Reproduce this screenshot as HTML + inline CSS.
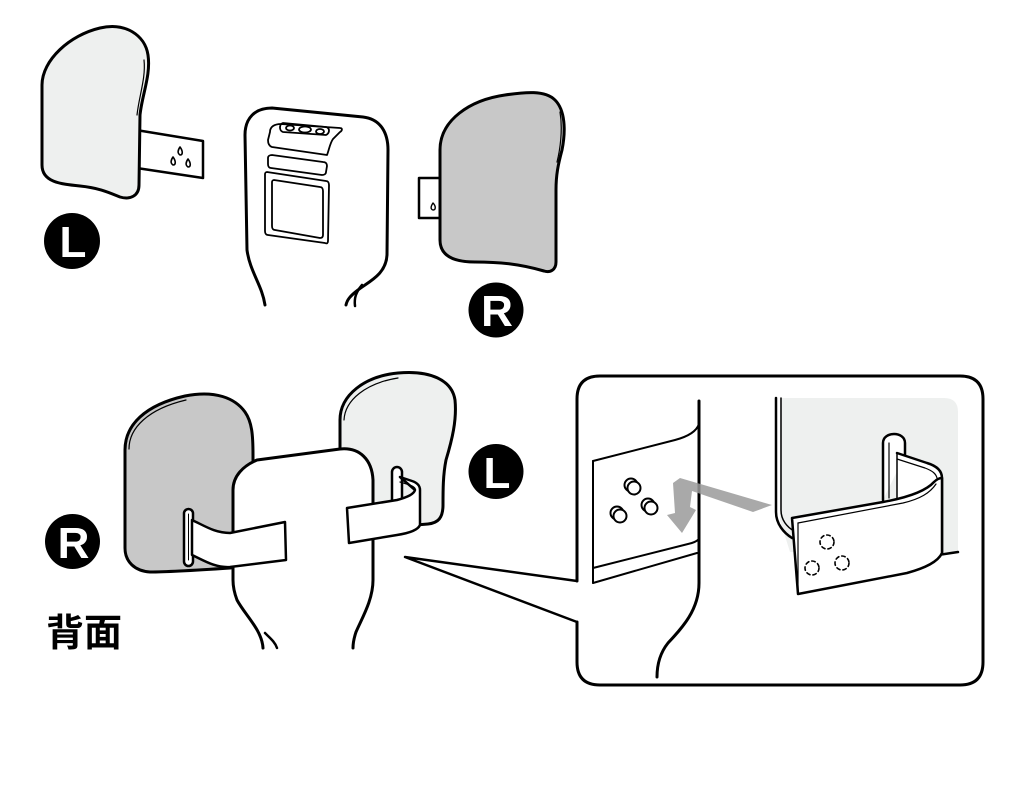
<!DOCTYPE html>
<html><head><meta charset="utf-8"><style>
html,body{margin:0;padding:0;background:#fff;}
svg{display:block;}
text{font-family:"Liberation Sans","Noto Sans CJK JP",sans-serif;}
</style></head><body>
<svg width="1024" height="805" viewBox="0 0 1024 805" xmlns="http://www.w3.org/2000/svg">
<rect width="1024" height="805" fill="#fff"/>
<g stroke="#000" stroke-linejoin="round" stroke-linecap="round">

<!-- ===== TOP LEFT L PAD ===== -->
<polygon points="130,129 203,141 203,178 130,167" fill="#fff" stroke-width="2.5"/>
<g fill="#fff" stroke-width="1.6">
<path d="M180,147 C178,150 177,153 180,155 C183,155 183,151 180,147 Z"/>
<path d="M173,157 C171,160 170,163 173,165 C176,165 176,161 173,157 Z"/>
<path d="M188,159 C186,162 185,165 188,167 C191,167 191,163 188,159 Z"/>
</g>
<path d="M42,165 L42,85 C42,60 70,35 100,28 C125,22 145,35 148,55 C151,75 142,95 140,115 L139,185 C139,196 130,200 120,197 C110,193 100,188 80,186 C60,184 42,182 42,165 Z" fill="#eef0ef" stroke-width="3"/>
<path d="M144,60 C146,78 139,96 137,115" fill="none" stroke-width="1.2"/>
<circle cx="72" cy="241" r="28" fill="#000" stroke="none"/>
<text x="73" y="257" font-size="44" font-weight="bold" fill="#fff" stroke="none" text-anchor="middle">L</text>

<!-- ===== TOP SEAT BACK ===== -->
<path d="M265,305 C262,285 250,272 247,250 L245,135 C245,118 255,108 272,108 L363,117 C380,119 388,132 388,150 L387,255 C386,275 368,282 358,290 C350,296 347,300 346,305" fill="#fff" stroke-width="3"/>
<path d="M362,285 C356,292 354,298 355,306" fill="none" stroke-width="2.5"/>
<g fill="none" stroke-width="1.8">
<path d="M270,132 C270,127 274,124 281,124 L340,128 C343,128 342,131 340,132 L333,139 C330,143 329,150 327,155 L272,147 C269,146 268,143 268,140 Z"/>
<path d="M283,123 L326,127 C330,128 330,133 326,135 L283,132 C279,131 279,124 283,123 Z"/>
<ellipse cx="290" cy="128" rx="4" ry="2.5"/>
<ellipse cx="305" cy="129.5" rx="6" ry="3"/>
<ellipse cx="320" cy="131.5" rx="4" ry="2.5"/>
<path d="M272,155 L323,162 C326,162 327,164 327,166 L326,172 C326,174 324,175 322,175 L271,168 C269,168 268,166 268,164 L268,158 C268,156 270,155 272,155 Z"/>
<path d="M267,172 L326,181 C328,181 329,183 329,185 L328,241 C328,243 327,244 325,243 L268,235 C266,235 265,233 265,231 L265,174 C265,173 266,172 267,172 Z"/>
<path d="M274,180 L320,187 C322,187 323,189 323,191 L323,235 C323,237 322,238 320,238 L275,230 C273,230 272,228 272,226 L272,182 C272,181 273,180 274,180 Z"/>
</g>

<!-- ===== TOP RIGHT R PAD ===== -->
<path d="M419,178 L440,178 L440,218 L419,218 Z" fill="#fff" stroke-width="2.5"/>
<path d="M433,203 C431,206 430,209 433,210 C436,210 436,206 433,203 Z" fill="#fff" stroke-width="1.4"/>
<path d="M440,150 C440,120 470,100 505,95 C525,92 545,90 555,100 C565,110 566,130 562,150 C558,165 556,175 556,190 L556,262 C556,270 550,273 544,271 C520,264 500,262 475,262 C452,262 440,255 440,240 Z" fill="#c8c8c8" stroke-width="3"/>
<path d="M560,112 C563,130 560,150 557,162" fill="none" stroke-width="1.2"/>
<circle cx="496" cy="310" r="27.5" fill="#000" stroke="none"/>
<text x="497" y="326" font-size="44" font-weight="bold" fill="#fff" stroke="none" text-anchor="middle">R</text>

<!-- ===== BOTTOM ASSEMBLY ===== -->
<!-- R pad -->
<path d="M125,450 C125,425 145,405 185,396 C215,390 235,398 245,412 C252,422 253,435 253,455 L253,565 L230,568 C200,570 170,572 150,572 C135,571 125,562 125,548 Z" fill="#c8c8c8" stroke-width="3"/>
<path d="M129,449 C129,428 148,409 186,400" fill="none" stroke-width="1.2"/>
<!-- L pad -->
<path d="M340,447 L340,420 C340,395 365,376 398,373 C430,370 452,380 455,400 C457,420 452,440 446,460 C443,475 443,490 443,505 C443,518 438,523 428,524 L380,528 L340,528 Z" fill="#eef0ef" stroke-width="3"/>
<path d="M344,420 C345,400 366,383 398,378" fill="none" stroke-width="1.2"/>
<!-- body -->
<path d="M263,648 C262,630 245,615 237,600 C234,592 233,587 233,580 L233,490 C233,476 243,466 257,460 L340,449 C360,447 372,460 373,480 L373,580 C373,600 362,618 356,632 C354,638 353,643 353,648" fill="#fff" stroke-width="3"/>
<path d="M265,633 C270,638 275,642 277,648" fill="none" stroke-width="2.5"/>
<!-- R strap -->
<rect x="184" y="509" width="9" height="57" rx="4.5" fill="#fff" stroke-width="2.5"/>
<line x1="188.5" y1="514" x2="188.5" y2="560" stroke-width="1"/>
<path d="M192,520 C205,526 215,533 230,533 L285,522 L286,560 L230,567 C215,568 203,560 192,555 Z" fill="#fff" stroke-width="2.5"/>
<!-- L strap -->
<rect x="392" y="467" width="10" height="42" rx="5" fill="#fff" stroke-width="2.5"/>
<path d="M400,477 L412,481 C418,483 420,486 420,490 L420,525 C418,530 410,533 397,535 L349,543 L347,508 L397,500 C408,497 414,494 415,490 Z" fill="#fff" stroke-width="2.5"/>
<path d="M400,482 L410,485 C415,487 416,489 415,491" fill="none" stroke-width="1.2"/>
<!-- badges -->
<circle cx="496" cy="471.5" r="27.5" fill="#000" stroke="none"/>
<text x="497" y="488" font-size="44" font-weight="bold" fill="#fff" stroke="none" text-anchor="middle">L</text>
<circle cx="72.5" cy="541.5" r="27.5" fill="#000" stroke="none"/>
<text x="73.5" y="558" font-size="44" font-weight="bold" fill="#fff" stroke="none" text-anchor="middle">R</text>
<text x="46" y="646" font-size="38" font-weight="bold" fill="#000" stroke="none" font-family="'Noto Sans CJK JP','Noto Sans CJK SC',sans-serif">背面</text>

<!-- callout lines -->
<path d="M577,581 L405,557 L577,622" fill="none" stroke-width="2.5"/>

<!-- ===== INSET BOX ===== -->
<path d="M577,581 L577,399 Q577,376 600,376 L960,376 Q983,376 983,399 L983,662 Q983,685 960,685 L600,685 Q577,685 577,662 L577,622" fill="none" stroke-width="3"/>

<!-- left: body with sticker -->
<path d="M699,401 L699,583 C699,610 682,628 668,643 C660,653 657,665 657,677" fill="none" stroke-width="3"/>
<path d="M593,461 L675,440 C690,436 697,430 699,424" fill="none" stroke-width="2"/>
<path d="M593,461 L593,583" fill="none" stroke-width="2"/>
<path d="M593,568 L688,544 C693,543 697,541 699,539" fill="none" stroke-width="2"/>
<path d="M593,583 L697,553" fill="none" stroke-width="2"/>
<g fill="#fff" stroke-width="2">
<circle cx="631" cy="485" r="6.5"/><circle cx="634" cy="488" r="6.5"/>
<circle cx="617" cy="513" r="6.5"/><circle cx="620" cy="516" r="6.5"/>
<circle cx="648" cy="505" r="6.5"/><circle cx="651" cy="508" r="6.5"/>
</g>
<!-- gray arrow -->
<polygon points="680,478 772,505 753,512 692,491 690,507 696,510 682,533 667,515 675,513 673,483" fill="#9a9a9a" fill-opacity="0.85" stroke="none"/>

<!-- right: pad with bracket -->
<path d="M780,398 L944,398 Q958,398 958,412 L958,552 L790,552 L780,520 Z" fill="#eef0ef" stroke="none"/>
<path d="M776,398 L776,512 C776,524 784,533 792,538" fill="none" stroke-width="2.5"/>
<path d="M781,398 L781,510 C781,520 787,527 794,531" fill="none" stroke-width="1.5"/>
<path d="M938,555 L958,552" fill="none" stroke-width="2.5"/>
<!-- slot -->
<path d="M883,500 L883,443 C883,431 905,431 905,443 L905,455" fill="#fff" stroke-width="2.5"/>
<line x1="889" y1="443" x2="889" y2="498" stroke-width="1.2"/>
<!-- strap back part -->
<path d="M897,453 L927,463 C937,466 942,471 942,478 L942,553 L900,500 L897,500 Z" fill="#fff" stroke="none"/>
<path d="M897,453 L927,463 C937,466 942,471 942,478 L942,553" fill="none" stroke-width="2.5"/>
<path d="M897,459 L925,468 C933,471 936,474 937,478" fill="none" stroke-width="1.2"/>
<line x1="897" y1="453" x2="897" y2="500" stroke-width="1.5"/>
<!-- strap front face -->
<path d="M792,518 L883,502 C905,498 925,492 934,482 Q938,478 942,478 L942,553 C938,562 925,568 907,573 L798,594 Z" fill="#fff" stroke-width="2.5"/>
<path d="M798,523 L903,503 C920,499 930,493 936,484" fill="none" stroke-width="1.2"/>
<line x1="798" y1="523" x2="798" y2="594" stroke-width="1.2"/>
<g fill="none" stroke-width="1.6" stroke-dasharray="3.5 3">
<circle cx="827" cy="542" r="7"/>
<circle cx="812" cy="568" r="7"/>
<circle cx="842" cy="563" r="7"/>
</g>
</g>
</svg>
</body></html>
